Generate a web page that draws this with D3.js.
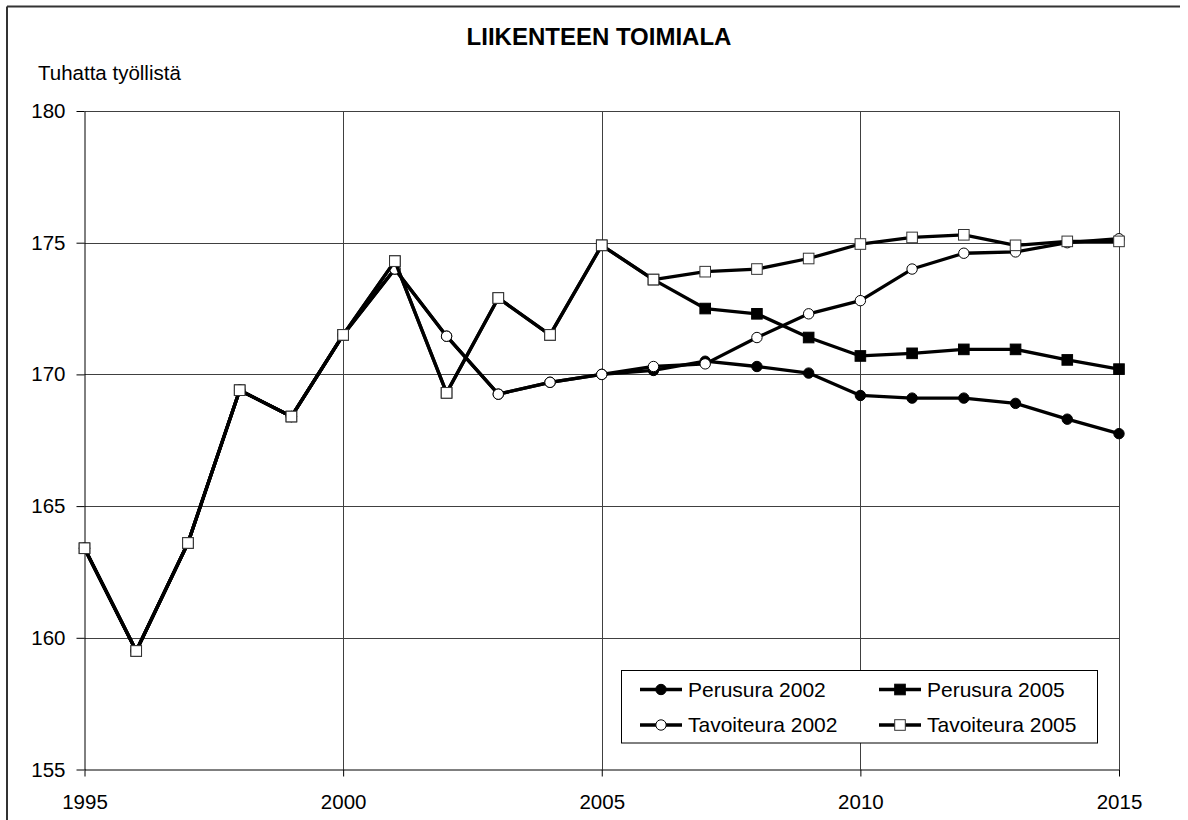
<!DOCTYPE html>
<html>
<head>
<meta charset="utf-8">
<script src="https://cdn.jsdelivr.net/npm/d3@7"></script>
<style>
  html, body { margin: 0; padding: 0; background: #fff; }
  svg { display: block; font-family: "Liberation Sans", Arial, sans-serif; }
</style>
</head>
<body>
<svg id="chart" width="1188" height="820"></svg>
<script>
const years = [1995,1996,1997,1998,1999,2000,2001,2002,2003,2004,2005,2006,2007,2008,2009,2010,2011,2012,2013,2014,2015];
const perusura2002   = [163.4,159.5,163.6,169.4,168.4,171.5,174.0,171.45,169.25,169.7,170.0,170.15,170.5,170.3,170.05,169.2,169.1,169.1,168.9,168.3,167.75];
const perusura2005   = [163.4,159.5,163.6,169.4,168.4,171.5,174.3,169.3,172.9,171.5,174.9,173.6,172.5,172.3,171.4,170.7,170.8,170.95,170.95,170.55,170.2];
const tavoiteura2002 = [163.4,159.5,163.6,169.4,168.4,171.5,174.0,171.45,169.25,169.7,170.0,170.3,170.4,171.4,172.3,172.8,174.0,174.6,174.65,175.0,175.15];
const tavoiteura2005 = [163.4,159.5,163.6,169.4,168.4,171.5,174.3,169.3,172.9,171.5,174.9,173.6,173.9,174.0,174.4,174.95,175.2,175.3,174.9,175.05,175.05];
const xTicks = [1995,2000,2005,2010,2015];
const yTicks = [155,160,165,170,175,180];
const seriesNames = ["Perusura 2002","Perusura 2005","Tavoiteura 2002","Tavoiteura 2005"];
const titleText = "LIIKENTEEN TOIMIALA";
const yAxisTitle = "Tuhatta työllistä";

const series = [
  {name: seriesNames[0], values: perusura2002,   shape: "circle", fill: "#000"},
  {name: seriesNames[1], values: perusura2005,   shape: "square", fill: "#000"},
  {name: seriesNames[2], values: tavoiteura2002, shape: "circle", fill: "#fff"},
  {name: seriesNames[3], values: tavoiteura2005, shape: "square", fill: "#fff"}
];

const svg = d3.select("#chart");
const L = 84.5, R = 1119, T = 111, B = 769.5;
const x = d3.scaleLinear().domain([1995, 2015]).range([L, R]);
const y = d3.scaleLinear().domain([155, 180]).range([B, T]);

// outer frame (top and left)
svg.append("line").attr("x1", 7).attr("x2", 1180).attr("y1", 6.5).attr("y2", 6.5)
  .attr("stroke", "#333").attr("stroke-width", 2);
svg.append("line").attr("x1", 7).attr("x2", 7).attr("y1", 6.5).attr("y2", 820)
  .attr("stroke", "#333").attr("stroke-width", 2);

// title
svg.append("text").attr("x", 599).attr("y", 45).attr("text-anchor", "middle")
  .attr("font-size", 24).attr("font-weight", "bold").text(titleText);
svg.append("text").attr("x", 38).attr("y", 80).attr("font-size", 20.5).text(yAxisTitle);

// grid
const grid = svg.append("g").attr("stroke", "#404040").attr("stroke-width", 1);
yTicks.filter(v => v !== 155).forEach(v => {
  grid.append("line").attr("x1", L).attr("x2", R)
    .attr("y1", Math.round(y(v)) + 0.5).attr("y2", Math.round(y(v)) + 0.5);
});
xTicks.filter(v => v !== 1995).forEach(v => {
  grid.append("line").attr("x1", Math.round(x(v)) + 0.5).attr("x2", Math.round(x(v)) + 0.5)
    .attr("y1", T).attr("y2", B);
});

// axes
const yAxis = d3.axisLeft(y).tickValues(yTicks).tickSize(8).tickPadding(11).tickSizeOuter(0);
const gy = svg.append("g").attr("transform", `translate(${L},0)`).call(yAxis);
const xAxis = d3.axisBottom(x).tickValues(xTicks).tickFormat(d3.format("d")).tickSize(7).tickPadding(18).tickSizeOuter(0);
const gx = svg.append("g").attr("transform", `translate(0,${B})`).call(xAxis);
[gx, gy].forEach(g => {
  g.selectAll("text").attr("font-size", 20.5).attr("fill", "#000")
    .attr("font-family", "'Liberation Sans', Arial, sans-serif");
  g.selectAll("line").attr("stroke", "#000");
  g.select(".domain").attr("stroke", "#000");
});

// series
const line = d3.line().x((d, i) => x(years[i])).y(d => y(d));
function drawMarker(g, shape, fill, cx, cy) {
  if (shape === "circle") {
    g.append("circle").attr("cx", cx).attr("cy", cy).attr("r", 5.2)
      .attr("fill", fill).attr("stroke", "#000").attr("stroke-width", 1);
  } else {
    g.append("rect").attr("x", cx - 5.3).attr("y", cy - 5.3).attr("width", 10.6).attr("height", 10.6)
      .attr("fill", fill).attr("stroke", fill === "#000" ? "#000" : "#333").attr("stroke-width", 1);
  }
}
series.forEach(s => {
  const g = svg.append("g");
  g.append("path").attr("d", line(s.values)).attr("fill", "none")
    .attr("stroke", "#000").attr("stroke-width", 3.3).attr("stroke-linejoin", "round");
  s.values.forEach((v, i) => drawMarker(g, s.shape, s.fill, x(years[i]), y(v)));
});

// legend
const lg = svg.append("g");
lg.append("rect").attr("x", 621.5).attr("y", 670.5).attr("width", 476).attr("height", 72.5)
  .attr("fill", "#fff").attr("stroke", "#000").attr("stroke-width", 1);
const cols = [640, 879], rows = [689.5, 725];
series.forEach((s, i) => {
  const cx = cols[i % 2], cy = rows[Math.floor(i / 2)];
  lg.append("line").attr("x1", cx).attr("x2", cx + 42).attr("y1", cy).attr("y2", cy)
    .attr("stroke", "#000").attr("stroke-width", 3.3);
  drawMarker(lg, s.shape, s.fill, cx + 21, cy);
  lg.append("text").attr("x", cx + 48).attr("y", cy + 7.3).attr("font-size", 21).text(s.name);
});
</script>
</body>
</html>
